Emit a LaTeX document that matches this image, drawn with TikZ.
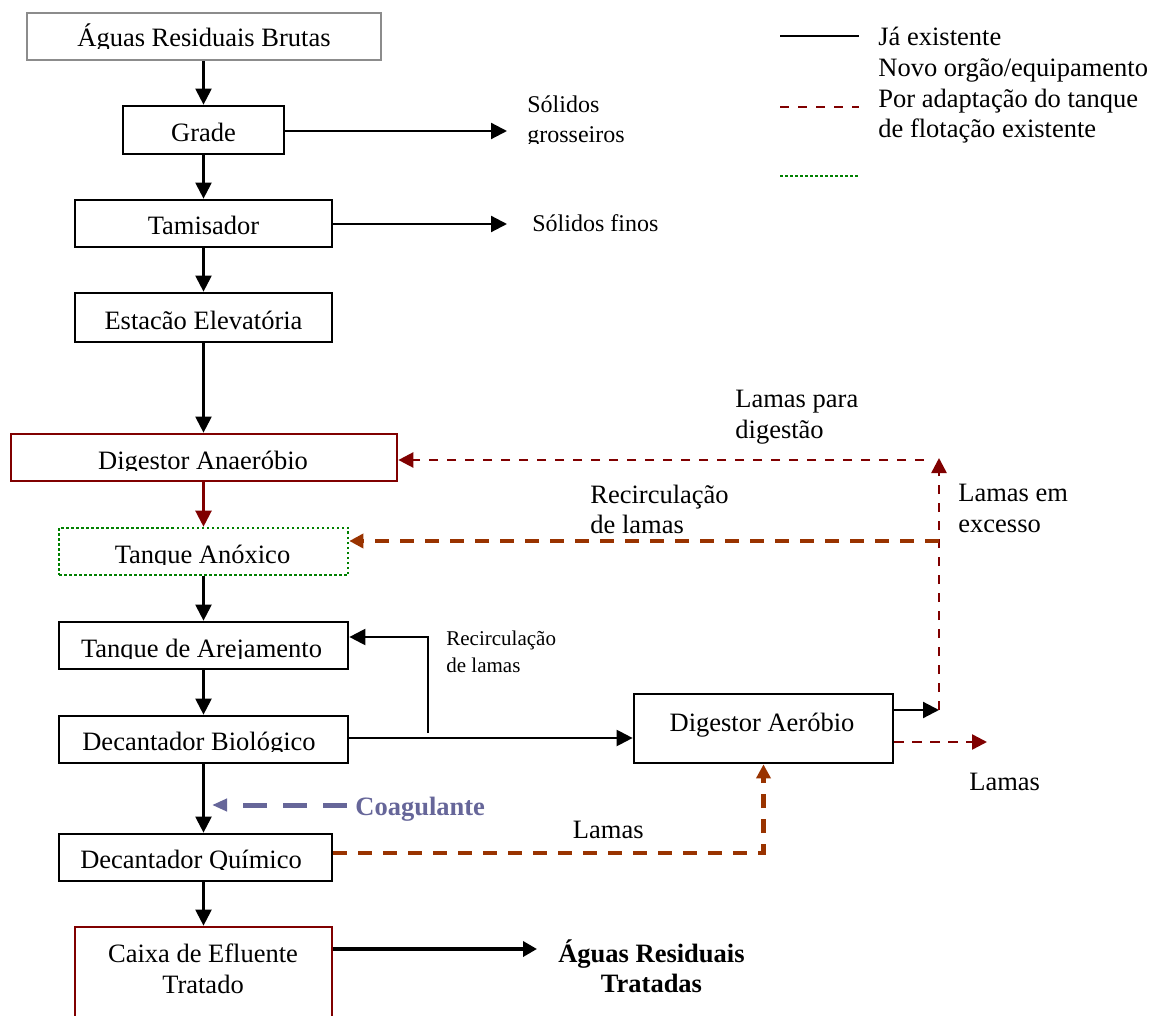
\documentclass[tikz,border=0pt]{standalone}
\usepackage{fontspec}
\setmainfont{Liberation Serif}
\usetikzlibrary{arrows.meta,fit}

\definecolor{darkred}{HTML}{800000}
\definecolor{rustbrown}{HTML}{993300}
\definecolor{dotgreen}{HTML}{008000}
\definecolor{coagblue}{HTML}{666699}
\definecolor{framegray}{HTML}{8C8C8C}

\newcommand\fsmain{\fontsize{13.25pt}{15.25pt}\selectfont}
\newcommand\fsmid{\fontsize{12pt}{15pt}\selectfont}
\newcommand\fssmall{\fontsize{10.5pt}{13.5pt}\selectfont}

\tikzset{
  unitbox/.style={draw, line width=1.35pt, inner sep=0pt},
  lbl/.style={inner sep=0pt, font=\fsmain},
  arr/.style={line width=1.1pt, -{Triangle[length=8pt,width=8pt]}},
  redarr/.style={arr, draw=darkred, fill=darkred},
  reddash/.style={draw=darkred, line width=1.25pt, dash pattern=on 4.75pt off 4.25pt,
                  -{Triangle[length=7.5pt,width=7.5pt]}},
  rustdash/.style={draw=rustbrown, line width=2.2pt, dash pattern=on 7pt off 5.5pt,
                   -{Triangle[length=7pt,width=7pt]}},
  coagdash/.style={draw=coagblue, line width=2.5pt, dash pattern=on 12pt off 8pt,
                   -{Triangle[length=7.5pt,width=6pt]}},
  greendot/.style={draw=dotgreen, line width=1.3pt, dash pattern=on 1.25pt off 1.25pt},
}

\begin{document}
\begin{tikzpicture}[x=0.5pt,y=-0.5pt]
\useasboundingbox (0,0) rectangle (1152,1016);

% ---------- process boxes ----------
\node[unitbox, draw=framegray, fit={(27,13) (381,60)}] (arb) {};
\begin{scope}
  \clip (27,13) rectangle (381,48.5);
  \node[lbl, anchor=base] (arbt) at (204,47) {Águas Residuais Brutas};
\end{scope}

\node[unitbox, fit={(123,106) (284,154)}] (grade) {};
\node[lbl, anchor=base] (gradet) at (203.5,142) {Grade};

\node[unitbox, fit={(75,200) (332,247)}] (tamis) {};
\node[lbl, anchor=base] (tamist) at (203.5,235) {Tamisador};

\node[unitbox, fit={(75,293) (332,342)}] (estac) {};
\node[lbl, anchor=base] (estact) at (203.5,329) {Estacão Elevatória};

\node[unitbox, draw=darkred, fit={(11,434) (397,481)}] (danae) {};
\begin{scope}
  \clip (11,434) rectangle (397,470.5);
  \node[lbl, anchor=base] (danaet) at (203,469) {Digestor Anaeróbio};
\end{scope}

\node[unitbox, greendot, fit={(59,528) (348,575)}] (tanox) {};
\begin{scope}
  \clip (59,528) rectangle (348,564.5);
  \node[lbl, anchor=base] (tanoxt) at (202.5,563) {Tanque Anóxico};
\end{scope}

\node[unitbox, fit={(59,622) (348,669)}] (tarej) {};
\begin{scope}
  \clip (59,622) rectangle (348,658.5);
  \node[lbl, anchor=base] (tarejt) at (201.5,657) {Tanque de Arejamento};
\end{scope}

\node[unitbox, fit={(59,716) (348,763)}] (dbio) {};
\begin{scope}
  \clip (59,716) rectangle (348,751.5);
  \node[lbl, anchor=base] (dbiot) at (199,750) {Decantador Biológico};
\end{scope}

\node[unitbox, fit={(59,834) (332,881)}] (dquim) {};
\begin{scope}
  \clip (59,834) rectangle (332,869.5);
  \node[lbl, anchor=base] (dquimt) at (191,868) {Decantador Químico};
\end{scope}

\node[unitbox, draw=darkred, fit={(75,927) (332,1040)}] (caixa) {};
\node[lbl, anchor=base] (caixat1) at (203,962) {Caixa de Efluente};
\node[lbl, anchor=base] (caixat2) at (203,993) {Tratado};

\node[unitbox, fit={(634,694) (893,763)}] (daer) {};
\node[lbl, anchor=base] (daert) at (762,731) {Digestor Aeróbio};

% ---------- free labels ----------
\begin{scope}
  \clip (520,80) rectangle (700,144);
  \node[inner sep=0pt, font=\fsmid, anchor=base west] (sgt1) at (527,113) {Sólidos};
  \node[inner sep=0pt, font=\fsmid, anchor=base west] (sgt2) at (527,143) {grosseiros};
\end{scope}
\node[inner sep=0pt, font=\fsmid, anchor=base west] (sft) at (532,232) {Sólidos finos};

\node[lbl, anchor=base west] (lpd1) at (735,408) {Lamas para};
\node[lbl, anchor=base west] (lpd2) at (735,438.5) {digestão};
\node[lbl, anchor=base west] (rcu1) at (590,503) {Recirculação};
\node[lbl, anchor=base west] (rcu2) at (590,533.5) {de lamas};
\node[lbl, anchor=base west] (lex1) at (958,502) {Lamas em};
\node[lbl, anchor=base west] (lex2) at (958,532.5) {excesso};
\node[inner sep=0pt, font=\fssmall, anchor=base west] (rcl1) at (446,645) {Recirculação};
\node[inner sep=0pt, font=\fssmall, anchor=base west] (rcl2) at (446,672) {de lamas};
\node[lbl, anchor=base west] (lam1) at (969,790) {Lamas};
\node[lbl, anchor=base east] (lam2) at (644,838) {Lamas};
\node[lbl, anchor=base west, font=\fsmain\bfseries, text=coagblue] (coag) at (355,815) {Coagulante};
\node[lbl, anchor=base, font=\fsmain\bfseries] (art1) at (651.5,962) {Águas Residuais};
\node[lbl, anchor=base, font=\fsmain\bfseries] (art2) at (651.5,992) {Tratadas};

% ---------- legend ----------
\coordinate (k1a) at (780,36);  \coordinate (k1b) at (859,36);
\coordinate (k2a) at (780,107); \coordinate (k2b) at (859,107);
\coordinate (k3a) at (780,176); \coordinate (k3b) at (859,176);
\draw[line width=1.3pt] (k1a) -- (k1b);
\draw[draw=darkred, line width=1.25pt, dash pattern=on 4.25pt off 4.75pt] (k2a) -- (k2b);
\draw[greendot] (k3a) -- (k3b);
\node[lbl, anchor=base west] (kt1) at (878,46) {Já existente};
\node[lbl, anchor=base west] (kt2) at (878,77) {Novo orgão/equipamento};
\node[lbl, anchor=base west] (kt3) at (878,108) {Por adaptação do tanque};
\node[lbl, anchor=base west] (kt4) at (878,138) {de flotação existente};

% ---------- connector end points ----------
\coordinate (sg) at (507,131);
\coordinate (sf) at (507,224);
\coordinate (rc) at (428,733);
\coordinate (xs) at (939,710);
\coordinate (xt) at (939,458);
\coordinate (lpd) at (924,460);
\coordinate (xo) at (939,541);
\coordinate (lm) at (987,742);
\coordinate (cgs) at (347,805);
\coordinate (cge) at (212,805);
\coordinate (ta) at (537,949);

% ---------- main line ----------
\draw[arr] (arb.south -| grade.north) -- (grade.north);
\draw[arr] (grade.south) -- (tamis.north);
\draw[arr] (tamis.south) -- (estac.north);
\draw[arr] (estac.south) -- (danae.north -| estac.south);
\draw[redarr] (danae.south -| tanox.north) -- (tanox.north);
\draw[arr] (tanox.south) -- (tarej.north);
\draw[arr] (tarej.south) -- (tarej.south |- dbio.north);
\draw[arr] (dbio.south -| tarej.south) -- (tarej.south |- dquim.north);
\draw[arr] (tarej.south |- dquim.south) -- (tarej.south |- caixa.north);

% ---------- side branches ----------
\draw[arr] (grade.east |- sg) -- (sg);
\draw[arr] (tamis.east |- sf) -- (sf);
\draw[arr] (dbio.east |- 0,738) -- (daer.west |- 0,738);
\draw[arr] (rc) |- ([yshift=4.25pt]tarej.east);
\draw[arr] ([yshift=9.25pt]daer.east) -- (xs);
\draw[reddash] (xs) -- (xt);
\draw[reddash] (lpd) -- (danae.east |- lpd);
\draw[rustdash] (xo) -- (tanox.east |- xo);
\draw[reddash] ([yshift=-6.75pt]daer.east) -- (lm);
\draw[rustdash] ([yshift=2.25pt]dquim.east) -| (daer.south);
\draw[coagdash] (cgs) -- (cge);
\draw[line width=1.9pt, -{Triangle[length=7pt,width=7.5pt]}] (caixa.east |- ta) -- (ta);

\end{tikzpicture}
\end{document}
